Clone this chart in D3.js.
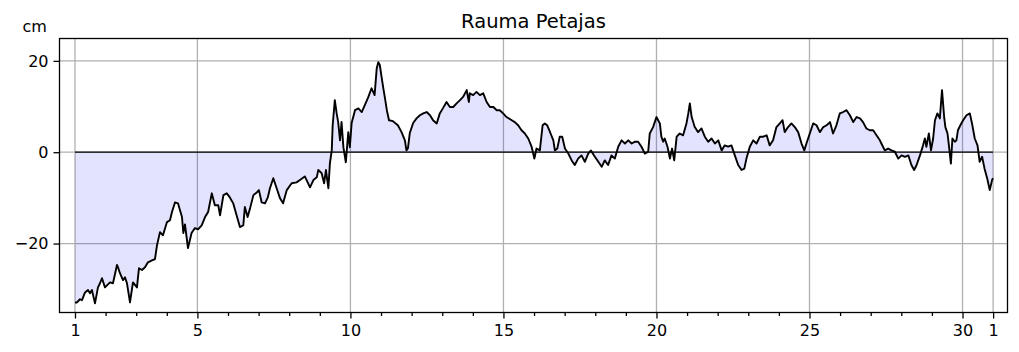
<!DOCTYPE html>
<html>
<head>
<meta charset="utf-8">
<script src="https://cdn.jsdelivr.net/npm/d3@7"></script>
<style>
  body { margin: 0; background: #fff; }
  text { font-family: "DejaVu Sans", sans-serif; fill: #000; }
</style>
</head>
<body>
<div id="chart"></div>
<script>
// time in days since the 1st, 00:00 ; sea level in cm
const days = [
  0, 0.065, 0.163, 0.229, 0.327, 0.425, 0.49, 0.555, 0.653, 0.751, 0.817, 0.882, 0.98,
  1.143, 1.241, 1.372, 1.405, 1.47, 1.568, 1.633, 1.699, 1.797, 1.895, 2.025, 2.091, 2.189,
  2.287, 2.385, 2.516, 2.614, 2.679, 2.777, 2.875, 3.006, 3.104, 3.169, 3.267, 3.365, 3.496,
  3.54, 3.594, 3.692, 3.81, 3.92, 4.02, 4.14, 4.25, 4.35, 4.47, 4.57, 4.68, 4.74, 4.85, 4.96,
  5.06, 5.17, 5.28, 5.39, 5.50, 5.55, 5.64, 5.72, 5.83, 5.94, 6.01, 6.10, 6.21, 6.30, 6.37,
  6.48, 6.59, 6.70, 6.80, 6.92, 7.08, 7.24, 7.35, 7.51, 7.68, 7.79, 7.90, 7.95, 8.06, 8.14,
  8.20, 8.28, 8.33, 8.39, 8.42, 8.49, 8.55, 8.60, 8.66, 8.71, 8.77, 8.85, 8.93, 8.98, 9.04,
  9.15, 9.26, 9.37, 9.47, 9.58, 9.69, 9.75, 9.79, 9.86, 9.91, 9.96, 10.02, 10.07, 10.13,
  10.19, 10.26, 10.39, 10.55, 10.67, 10.78, 10.83, 10.88, 10.94, 11.05, 11.16, 11.27, 11.38,
  11.49, 11.60, 11.70, 11.82, 11.92, 12.02, 12.14, 12.25, 12.36, 12.47, 12.58, 12.68, 12.80,
  12.87, 12.90, 13.01, 13.12, 13.23, 13.34, 13.45, 13.56, 13.67, 13.78, 13.88, 13.99, 14.10,
  14.27, 14.37, 14.48, 14.59, 14.70, 14.81, 14.92, 15.01, 15.08, 15.19, 15.28, 15.35, 15.43,
  15.50, 15.54, 15.63, 15.68, 15.76, 15.84, 15.92, 16.01, 16.12, 16.23, 16.33, 16.44, 16.55,
  16.66, 16.77, 16.86, 16.96, 17.10, 17.21, 17.31, 17.42, 17.53, 17.64, 17.75, 17.86, 17.97,
  18.08, 18.19, 18.30, 18.40, 18.51, 18.62, 18.73, 18.78, 18.89, 19.00, 19.11, 19.16, 19.22,
  19.27, 19.36, 19.44, 19.51, 19.58, 19.66, 19.76, 19.87, 19.98, 20.04, 20.09, 20.15, 20.25,
  20.36, 20.47, 20.58, 20.69, 20.80, 20.91, 21.02, 21.13, 21.23, 21.34, 21.45, 21.56, 21.67,
  21.78, 21.87, 21.94, 22.05, 22.16, 22.27, 22.38, 22.49, 22.60, 22.70, 22.81, 22.92, 23.03,
  23.12, 23.19, 23.30, 23.41, 23.52, 23.63, 23.74, 23.83, 23.90, 24.01, 24.12, 24.23, 24.34,
  24.45, 24.56, 24.67, 24.77, 24.88, 24.99, 25.10, 25.21, 25.32, 25.43, 25.54, 25.65, 25.75,
  25.86, 25.97, 26.08, 26.19, 26.30, 26.35, 26.46, 26.57, 26.68, 26.79, 26.90, 27.01, 27.12,
  27.23, 27.33, 27.42, 27.50, 27.61, 27.71, 27.77, 27.82, 27.90, 27.97, 28.04, 28.10, 28.18,
  28.26, 28.33, 28.40, 28.44, 28.51, 28.56, 28.62, 28.67, 28.75, 28.80, 28.85, 28.93, 29.02,
  29.13, 29.24, 29.31, 29.40, 29.49, 29.56, 29.64, 29.72, 29.81, 29.89, 29.97, 30.00
];
const level = [
  -32.9, -32.9, -32.2, -32.4, -30.7, -30.2, -30.9, -30.2, -33.1, -29.6, -28.7, -27.6, -29.6,
  -28.5, -28.7, -24.7, -25.2, -26.5, -28.0, -27.4, -28.7, -32.9, -28.5, -29.6, -25.4, -25.8,
  -25.2, -24.1, -23.7, -23.4, -20.4, -17.5, -18.2, -15.3, -14.9, -13.1, -11.0, -11.2, -14.2,
  -17.7, -15.8, -21.0, -17.7, -16.6, -16.9, -16.0, -14.2, -13.1, -9.0, -11.6, -11.6, -13.8, -9.4, -9.0,
  -9.9, -11.2, -13.8, -16.4, -16.0, -12.0, -14.2, -12.3, -9.4, -8.8, -8.3, -11.0, -11.2, -9.9, -7.9,
  -5.7, -7.9, -10.1, -11.2, -8.3, -6.8, -6.6, -6.1, -5.3, -7.7, -6.1, -5.5, -3.9, -4.6, -6.8,
  -3.9, -7.9, -2.4, 0.4, 5.9, 11.4, 8.5, 6.6, 2.6, 6.6, 1.1, -2.2, 4.4, 1.1, 6.4,
  9.2, 9.6, 8.8, 10.3, 12.0, 14.0, 13.1, 12.5, 18.4, 19.7, 19.1, 16.4, 14.2, 11.8,
  9.2, 7.0, 6.8, 5.9, 4.4, 2.6, 0.4, 0.9, 4.2, 6.4, 7.4, 8.1, 8.5,
  8.8, 8.1, 7.0, 6.3, 8.5, 9.6, 11.0, 9.9, 9.9, 10.7, 11.4, 12.1, 13.6,
  11.0, 12.9, 12.5, 13.2, 12.5, 12.9, 11.0, 9.9, 9.9, 9.2, 9.2, 8.5, 7.7,
  7.0, 6.6, 5.9, 4.8, 4.1, 3.0, 1.2, -1.4, 0.8, 0.4, 5.9, 6.3, 5.9,
  4.8, 4.1, 2.6, 0.4, 0.8, 3.4, 3.4, 0.8, -0.3, -1.8, -2.8, -1.4, -0.7,
  -2.1, -0.3, 0.4, -0.7, -2.1, -3.2, -1.8, -2.8, -0.7, -1.4, 1.2, 2.6, 1.9,
  2.6, 1.9, 2.3, 2.3, 1.2, -0.3, 0.1, 4.1, 5.5, 7.7, 6.3, 3.4, 2.3,
  3.0, 1.2, -1.4, 0.8, -1.8, 3.4, 4.1, 3.7, 6.3, 8.5, 10.7, 7.7, 5.5,
  4.4, 5.2, 3.4, 2.3, 3.0, 1.9, 2.6, 0.4, 1.5, 1.2, 1.5, -0.7, -2.8,
  -3.9, -3.6, -1.4, 1.2, 2.6, 1.9, 3.4, 3.4, 3.7, 1.5, 2.6, 5.5, 6.3,
  7.0, 4.4, 5.5, 6.3, 5.5, 4.4, 1.9, 0.4, 1.9, 4.1, 6.3, 5.9, 4.4,
  5.5, 5.9, 6.6, 4.1, 5.9, 8.5, 8.8, 9.2, 8.1, 6.6, 7.7, 7.4, 6.6,
  5.2, 4.8, 4.8, 3.7, 2.6, 1.9, 0.4, 0.8, 0.4, 0.1, -1.4, -0.7, -1.0,
  -0.7, -2.8, -3.9, -2.8, -0.7, 1.5, 3.0, 1.2, 4.1, 0.4, 3.0, 7.0, 8.5,
  7.4, 13.6, 7.7, 5.5, 4.1, 1.2, -2.5, 3.0, 2.3, 2.6, 4.8, 5.9, 7.0,
  8.1, 8.5, 6.3, 3.0, 1.5, -2.1, -1.0, -3.6, -5.8, -8.3, -6.0, -5.7
];
const xTicks = [0, 4, 9, 14, 19, 24, 29, 30];
const xTickLabels = ["1", "5", "10", "15", "20", "25", "30", "1"];
const yTicks = [-20, 0, 20];
const title = "Rauma Petajas";
const unit = "cm";

const data = days.map((d, i) => ({t: d, v: level[i]}));

const width = 1019, height = 352;
const margin = {top: 38.5, right: 11.5, bottom: 39.5, left: 59.5};

const svg = d3.select("#chart").append("svg")
  .attr("width", width)
  .attr("height", height);

const x = d3.scaleLinear()
  .domain([-0.506, 30.47])
  .range([margin.left, width - margin.right]);
const y = d3.scaleLinear()
  .domain([-35.1, 24.9])
  .range([height - margin.bottom, margin.top]);

const x0 = margin.left, x1 = width - margin.right;
const y0 = margin.top, y1 = height - margin.bottom;

// grid
svg.append("g")
  .selectAll("line")
  .data(xTicks)
  .join("line")
  .attr("x1", d => x(d)).attr("x2", d => x(d))
  .attr("y1", y0).attr("y2", y1)
  .attr("stroke", "#b0b0b0")
  .attr("stroke-width", 1.3);
svg.append("g")
  .selectAll("line")
  .data(yTicks)
  .join("line")
  .attr("x1", x0).attr("x2", x1)
  .attr("y1", d => y(d)).attr("y2", d => y(d))
  .attr("stroke", "#b0b0b0")
  .attr("stroke-width", 1.3);

// fill between series and zero
const area = d3.area()
  .x(d => x(d.t))
  .y0(y(0))
  .y1(d => y(d.v));
svg.append("path")
  .datum(data)
  .attr("d", area)
  .attr("fill", "rgb(0,0,240)")
  .attr("fill-opacity", 0.11);

// zero line
svg.append("line")
  .attr("x1", x(days[0])).attr("x2", x(days[days.length - 1]))
  .attr("y1", y(0)).attr("y2", y(0))
  .attr("stroke", "#000")
  .attr("stroke-width", 1.3);

// series
const line = d3.line()
  .x(d => x(d.t))
  .y(d => y(d.v));
svg.append("path")
  .datum(data)
  .attr("d", line)
  .attr("fill", "none")
  .attr("stroke", "#000")
  .attr("stroke-width", 1.9)
  .attr("stroke-linejoin", "round");

// frame
svg.append("rect")
  .attr("x", x0).attr("y", y0)
  .attr("width", x1 - x0).attr("height", y1 - y0)
  .attr("fill", "none")
  .attr("stroke", "#000")
  .attr("stroke-width", 1.3);

// axes
const xAxis = d3.axisBottom(x)
  .tickValues(xTicks)
  .tickFormat((d, i) => xTickLabels[i])
  .tickSize(6)
  .tickPadding(6);
const gx = svg.append("g")
  .attr("transform", `translate(0,${y1})`)
  .call(xAxis);
gx.select(".domain").remove();

const minor = d3.range(0, 31).filter(d => !xTicks.includes(d));
const xMinor = d3.axisBottom(x)
  .tickValues(minor)
  .tickFormat("")
  .tickSize(3.5);
const gm = svg.append("g")
  .attr("transform", `translate(0,${y1})`)
  .call(xMinor);
gm.select(".domain").remove();

const yAxis = d3.axisLeft(y)
  .tickValues(yTicks)
  .tickFormat(d => d < 0 ? "\u2212" + Math.abs(d) : d)
  .tickSize(6)
  .tickPadding(5);
const gy = svg.append("g")
  .attr("transform", `translate(${x0},0)`)
  .call(yAxis);
gy.select(".domain").remove();

svg.selectAll(".tick line").attr("stroke", "#000").attr("stroke-width", 1.3);
svg.selectAll(".tick text")
  .style("font-family", "DejaVu Sans, sans-serif")
  .style("font-size", "16px")
  .attr("fill", "#000");

svg.append("text")
  .attr("x", (x0 + x1) / 2)
  .attr("y", 28)
  .attr("text-anchor", "middle")
  .style("font-size", "19.5px")
  .text(title);

svg.append("text")
  .attr("x", 22.5)
  .attr("y", 32)
  .style("font-size", "16px")
  .text(unit);
</script>
</body>
</html>
